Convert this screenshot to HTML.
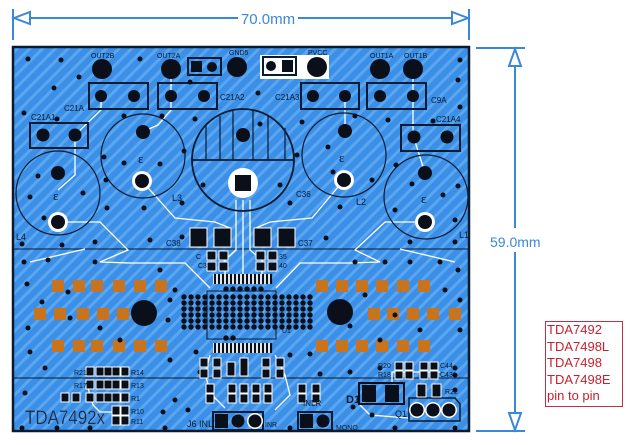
<!DOCTYPE html>
<html><head><meta charset="utf-8"><style>
html,body{margin:0;padding:0;background:#fff;}
svg{display:block;}
</style></head><body>
<svg width="630" height="445" viewBox="0 0 630 445" xmlns="http://www.w3.org/2000/svg" font-family="Liberation Sans, sans-serif">
<defs>
<pattern id="st" width="9" height="9" patternUnits="userSpaceOnUse" patternTransform="rotate(45)">
<rect width="9" height="9" fill="#3b8fe6"/>
<rect width="3" height="9" fill="#5aa6f0"/>
</pattern>
<g id="row" fill="#0a0f1a">
<circle cx="184" cy="0" r="2.7"/><circle cx="191" cy="0" r="2.7"/><circle cx="198" cy="0" r="2.7"/><circle cx="205" cy="0" r="2.7"/><circle cx="212" cy="0" r="2.7"/><circle cx="219" cy="0" r="2.7"/><circle cx="226" cy="0" r="2.7"/><circle cx="233" cy="0" r="2.7"/><circle cx="240" cy="0" r="2.7"/><circle cx="247" cy="0" r="2.7"/><circle cx="254" cy="0" r="2.7"/><circle cx="261" cy="0" r="2.7"/><circle cx="268" cy="0" r="2.7"/><circle cx="275" cy="0" r="2.7"/><circle cx="282" cy="0" r="2.7"/><circle cx="289" cy="0" r="2.7"/><circle cx="296" cy="0" r="2.7"/><circle cx="303" cy="0" r="2.7"/><circle cx="310" cy="0" r="2.7"/>
</g>
</defs>
<!-- dimension lines -->
<g stroke="#3a88d8" stroke-width="2" fill="none">
<line x1="13" y1="9" x2="13" y2="40"/>
<line x1="469" y1="9" x2="469" y2="40"/>
<line x1="14" y1="18" x2="238" y2="18"/>
<line x1="298" y1="18" x2="468" y2="18"/>
<polygon points="14,18 30,12 30,24" fill="#fff"/>
<polygon points="468,18 452,12 452,24" fill="#fff"/>
<line x1="476" y1="48" x2="525" y2="48"/>
<line x1="476" y1="431" x2="525" y2="431"/>
<line x1="515" y1="49" x2="515" y2="228"/>
<line x1="515" y1="252" x2="515" y2="430"/>
<polygon points="515,49 509,66 521,66" fill="#fff"/>
<polygon points="515,430 509,413 521,413" fill="#fff"/>
</g>
<text x="268" y="24" font-size="15" fill="#3a88d8" text-anchor="middle">70.0mm</text>
<text x="490" y="247" font-size="14" fill="#3a88d8">59.0mm</text>
<!-- red box -->
<rect x="545.5" y="321.5" width="77" height="85" fill="#fff" stroke="#c03040" stroke-width="1"/>
<g font-size="13" fill="#c8202e">
<text x="547" y="334">TDA7492</text>
<text x="547" y="351">TDA7498L</text>
<text x="547" y="367">TDA7498</text>
<text x="547" y="384">TDA7498E</text>
<text x="547" y="400">pin to pin</text>
</g>
<!-- board -->
<rect x="13" y="47" width="456" height="384" fill="url(#st)" stroke="#0a1a30" stroke-width="2.5"/>
<line x1="13" y1="249" x2="469" y2="249" stroke="#0a1a30" stroke-width="1"/>
<line x1="13" y1="378" x2="469" y2="378" stroke="#0a1a30" stroke-width="1"/>
<!-- white traces -->
<g stroke="#fff" stroke-width="1.3" fill="none">
<path d="M101,96 L101,110 L75,135 L75,175 L58,190"/>
<path d="M171,69 L171,110 L158,125 L142,132"/>
<path d="M345,96 L345,131"/>
<path d="M413,69 L413,135 L425,173"/>
<path d="M142,181 L175,218 L215,222 L230,228"/>
<path d="M344,180 L312,218 L270,222 L256,228"/>
<path d="M58,222 L100,222 L128,250 L100,262 L130,263 L185,263 L210,288"/>
<path d="M425,222 L385,222 L355,250 L380,262 L350,263 L300,263 L276,288"/>
<path d="M243,200 L243,275"/>
<path d="M236,200 L236,250 L225,260 L225,274"/>
<path d="M250,200 L250,250 L262,260 L262,274"/>
<path d="M30,262 L85,249"/>
<path d="M455,262 L400,249"/>
<path d="M210,355 L205,375 L212,395 L225,408"/>
<path d="M275,355 L285,375 L290,395 L275,410"/>
<path d="M360,405 L370,415 L408,418"/>
<path d="M392,383 L392,372 L440,372"/>
<path d="M88,388 L93,405 L100,412 L120,412"/>
</g>
<!-- circles -->
<g stroke="#0a1a30" stroke-width="1.2" fill="none">
<circle cx="58" cy="193" r="42"/>
<circle cx="143" cy="156" r="42"/>
<circle cx="344" cy="155" r="42"/>
<circle cx="426" cy="197" r="42"/>
<circle cx="243" cy="160" r="51" stroke-width="1.8"/>
<line x1="192" y1="160" x2="294" y2="160" stroke-width="1.8"/>
<line x1="206" y1="126" x2="206" y2="160"/>
<line x1="220" y1="116" x2="220" y2="160"/>
<line x1="233" y1="111" x2="233" y2="160"/>
<line x1="253" y1="111" x2="253" y2="160"/>
<line x1="268" y1="116" x2="268" y2="160"/>
<line x1="285" y1="128" x2="285" y2="160"/>
</g>
<g font-size="13" fill="#0a1a30" font-family="Liberation Serif, serif">
<text x="53" y="200">ε</text><text x="138" y="163">ε</text><text x="339" y="162">ε</text><text x="421" y="203">ε</text>
</g>
<!-- rect outlines -->
<g stroke="#0a1a30" stroke-width="2" fill="none">
<rect x="89" y="83" width="59" height="26"/>
<rect x="158" y="83" width="59" height="26"/>
<rect x="301" y="83" width="58" height="26"/>
<rect x="367" y="83" width="59" height="26"/>
<rect x="30" y="123" width="58" height="25"/>
<rect x="401" y="125" width="59" height="26"/>
<rect x="188" y="58" width="33" height="17"/>
<rect x="213" y="412" width="50" height="18"/>
<rect x="298" y="412" width="34" height="18"/>
<rect x="207" y="291" width="69" height="48" stroke-width="1"/>
<path d="M409,398 L455,398 L460,404 L460,421 L409,421 Z" stroke-width="1.5"/>
</g>
<rect x="260" y="55" width="69" height="24" fill="#fff"/>
<rect x="263" y="57" width="33" height="18" fill="none" stroke="#0a1a30" stroke-width="2"/>
<!-- pads -->
<g fill="#0a0f1a">
<circle cx="102" cy="69" r="10"/><circle cx="171" cy="69" r="10"/><circle cx="237" cy="67" r="10"/>
<circle cx="317" cy="67" r="10"/><circle cx="380" cy="69" r="10"/><circle cx="413" cy="69" r="10"/>
<rect x="191" y="61" width="11" height="11"/><circle cx="212" cy="67" r="5"/>
<circle cx="271" cy="66" r="5"/><rect x="282" y="60" width="11" height="12"/>
<circle cx="101" cy="96" r="6"/><circle cx="134" cy="96" r="6"/><circle cx="171" cy="96" r="6"/><circle cx="204" cy="96" r="6"/>
<circle cx="313" cy="96" r="6"/><circle cx="345" cy="96" r="6"/><circle cx="380" cy="96" r="6"/><circle cx="413" cy="96" r="6"/>
<circle cx="43" cy="135" r="6.5"/><circle cx="75" cy="135" r="6.5"/>
<circle cx="414" cy="137" r="6.5"/><circle cx="447" cy="137" r="6.5"/>
<circle cx="58" cy="173" r="7"/><circle cx="143" cy="132" r="7"/><circle cx="345" cy="131" r="7"/><circle cx="425" cy="173" r="7"/>
<circle cx="243" cy="135" r="7"/>
</g>
<g fill="#fff"><circle cx="58" cy="222" r="10"/><circle cx="142" cy="181" r="10"/><circle cx="344" cy="180" r="10"/><circle cx="425" cy="222" r="10"/><circle cx="243" cy="183" r="15"/></g>
<g fill="#0a0f1a"><circle cx="58" cy="222" r="7"/><circle cx="142" cy="181" r="7"/><circle cx="344" cy="180" r="7"/><circle cx="425" cy="222" r="7"/><rect x="235" y="175" width="16" height="16"/></g>
<!-- SMD caps -->
<g fill="#0a0f1a" stroke="#fff" stroke-width="1">
<rect x="190" y="228" width="17" height="19"/><rect x="214" y="228" width="17" height="19"/>
<rect x="254" y="228" width="17" height="19"/><rect x="278" y="228" width="17" height="19"/>
<rect x="207" y="251" width="9" height="9"/><rect x="219" y="251" width="9" height="9"/>
<rect x="207" y="262" width="9" height="9"/><rect x="219" y="262" width="9" height="9"/>
<rect x="256" y="251" width="9" height="9"/><rect x="268" y="251" width="9" height="9"/>
<rect x="256" y="262" width="9" height="9"/><rect x="268" y="262" width="9" height="9"/>
</g>
<!-- fine pitch pins -->
<g fill="#fff">
<rect x="213" y="274" width="59" height="10"/><rect x="213" y="343" width="59" height="10"/>
</g>
<g stroke="#0a0f1a" stroke-width="2.2">
<path d="M215,274v10M219,274v10M223,274v10M227,274v10M231,274v10M235,274v10M239,274v10M243,274v10M247,274v10M251,274v10M255,274v10M259,274v10M263,274v10M267,274v10M271,274v10"/>
<path d="M215,343v10M219,343v10M223,343v10M227,343v10M231,343v10M235,343v10M239,343v10M243,343v10M247,343v10M251,343v10M255,343v10M259,343v10M263,343v10M267,343v10M271,343v10"/>
</g>
<!-- BGA grid -->
<g fill="#0a0f1a">
<use href="#row" y="297"/><use href="#row" y="303"/><use href="#row" y="309"/><use href="#row" y="315"/><use href="#row" y="321"/><use href="#row" y="327"/>
<circle cx="226" cy="289" r="2.7"/><circle cx="233" cy="289" r="2.7"/><circle cx="240" cy="289" r="2.7"/><circle cx="247" cy="289" r="2.7"/><circle cx="254" cy="289" r="2.7"/><circle cx="261" cy="289" r="2.7"/>
<circle cx="226" cy="338" r="2.7"/><circle cx="233" cy="338" r="2.7"/>
<circle cx="144" cy="313" r="13"/><circle cx="340" cy="312" r="13"/>
</g>
<!-- orange pads -->
<g fill="#c8741e">
<rect x="52" y="280" width="12" height="12"/><rect x="73" y="280" width="12" height="12"/><rect x="91" y="280" width="12" height="12"/><rect x="113" y="280" width="12" height="12"/><rect x="134" y="280" width="12" height="12"/><rect x="155" y="280" width="12" height="12"/>
<rect x="34" y="308" width="12" height="12"/><rect x="54" y="308" width="12" height="12"/><rect x="77" y="308" width="12" height="12"/><rect x="97" y="308" width="12" height="12"/><rect x="117" y="308" width="12" height="12"/>
<rect x="52" y="340" width="12" height="12"/><rect x="73" y="340" width="12" height="12"/><rect x="91" y="340" width="12" height="12"/><rect x="113" y="340" width="12" height="12"/><rect x="134" y="340" width="12" height="12"/><rect x="155" y="340" width="12" height="12"/>
<rect x="316" y="280" width="12" height="12"/><rect x="336" y="280" width="12" height="12"/><rect x="356" y="280" width="12" height="12"/><rect x="376" y="280" width="12" height="12"/><rect x="397" y="280" width="12" height="12"/><rect x="418" y="280" width="12" height="12"/>
<rect x="368" y="308" width="12" height="12"/><rect x="387" y="308" width="12" height="12"/><rect x="407" y="308" width="12" height="12"/><rect x="427" y="308" width="12" height="12"/><rect x="449" y="308" width="12" height="12"/>
<rect x="316" y="340" width="12" height="12"/><rect x="336" y="340" width="12" height="12"/><rect x="356" y="340" width="12" height="12"/><rect x="376" y="340" width="12" height="12"/><rect x="397" y="340" width="12" height="12"/><rect x="418" y="340" width="12" height="12"/>
</g>
<!-- vias -->
<g fill="#0a0f1a">
<circle cx="28" cy="59" r="2.5"/><circle cx="61" cy="60" r="2.5"/><circle cx="140" cy="59" r="2.5"/><circle cx="79" cy="77" r="2.5"/><circle cx="54" cy="88" r="2.5"/><circle cx="190" cy="82" r="2.5"/><circle cx="24" cy="113" r="2.5"/><circle cx="57" cy="119" r="2.5"/><circle cx="124" cy="116" r="2.5"/><circle cx="162" cy="116" r="2.5"/><circle cx="195" cy="119" r="2.5"/><circle cx="258" cy="93" r="2.5"/><circle cx="302" cy="122" r="2.5"/><circle cx="355" cy="116" r="2.5"/><circle cx="388" cy="120" r="2.5"/><circle cx="460" cy="60" r="2.5"/><circle cx="458" cy="80" r="2.5"/><circle cx="460" cy="107" r="2.5"/><circle cx="433" cy="121" r="2.5"/><circle cx="260" cy="124" r="2.5"/><circle cx="104" cy="157" r="2.5"/><circle cx="124" cy="163" r="2.5"/><circle cx="160" cy="164" r="2.5"/><circle cx="184" cy="151" r="2.5"/><circle cx="203" cy="185" r="2.5"/><circle cx="280" cy="185" r="2.5"/><circle cx="297" cy="155" r="2.5"/><circle cx="328" cy="147" r="2.5"/><circle cx="333" cy="172" r="2.5"/><circle cx="372" cy="180" r="2.5"/><circle cx="396" cy="165" r="2.5"/><circle cx="412" cy="184" r="2.5"/><circle cx="443" cy="195" r="2.5"/><circle cx="458" cy="186" r="2.5"/><circle cx="38" cy="176" r="2.5"/><circle cx="30" cy="197" r="2.5"/><circle cx="83" cy="193" r="2.5"/><circle cx="44" cy="218" r="2.5"/><circle cx="106" cy="180" r="2.5"/><circle cx="144" cy="208" r="2.5"/><circle cx="107" cy="208" r="2.5"/><circle cx="182" cy="203" r="2.5"/><circle cx="290" cy="203" r="2.5"/><circle cx="340" cy="207" r="2.5"/><circle cx="395" cy="210" r="2.5"/><circle cx="455" cy="220" r="2.5"/><circle cx="22" cy="244" r="2.5"/><circle cx="62" cy="245" r="2.5"/><circle cx="95" cy="242" r="2.5"/><circle cx="150" cy="240" r="2.5"/><circle cx="182" cy="237" r="2.5"/><circle cx="326" cy="238" r="2.5"/><circle cx="410" cy="242" r="2.5"/><circle cx="455" cy="242" r="2.5"/>
<circle cx="24" cy="262" r="2.5"/><circle cx="48" cy="260" r="2.5"/><circle cx="95" cy="262" r="2.5"/><circle cx="160" cy="270" r="2.5"/><circle cx="355" cy="262" r="2.5"/><circle cx="385" cy="262" r="2.5"/><circle cx="410" cy="262" r="2.5"/><circle cx="440" cy="262" r="2.5"/><circle cx="458" cy="270" r="2.5"/><circle cx="27" cy="284" r="2.5"/><circle cx="42" cy="302" r="2.5"/><circle cx="68" cy="292" r="2.5"/><circle cx="175" cy="290" r="2.5"/><circle cx="170" cy="300" r="2.5"/><circle cx="28" cy="328" r="2.5"/><circle cx="70" cy="318" r="2.5"/><circle cx="100" cy="328" r="2.5"/><circle cx="120" cy="340" r="2.5"/><circle cx="168" cy="320" r="2.5"/><circle cx="350" cy="326" r="2.5"/><circle cx="380" cy="340" r="2.5"/><circle cx="420" cy="330" r="2.5"/><circle cx="460" cy="330" r="2.5"/><circle cx="460" cy="300" r="2.5"/><circle cx="445" cy="290" r="2.5"/><circle cx="365" cy="295" r="2.5"/><circle cx="395" cy="315" r="2.5"/><circle cx="30" cy="352" r="2.5"/><circle cx="45" cy="368" r="2.5"/><circle cx="170" cy="360" r="2.5"/><circle cx="196" cy="352" r="2.5"/><circle cx="200" cy="372" r="2.5"/><circle cx="290" cy="355" r="2.5"/><circle cx="310" cy="354" r="2.5"/><circle cx="320" cy="374" r="2.5"/><circle cx="350" cy="372" r="2.5"/><circle cx="380" cy="368" r="2.5"/><circle cx="455" cy="368" r="2.5"/><circle cx="455" cy="375" r="2.5"/><circle cx="25" cy="393" r="2.5"/><circle cx="175" cy="400" r="2.5"/><circle cx="163" cy="412" r="2.5"/><circle cx="188" cy="410" r="2.5"/><circle cx="353" cy="407" r="2.5"/><circle cx="372" cy="415" r="2.5"/><circle cx="455" cy="390" r="2.5"/><circle cx="22" cy="428" r="2.5"/><circle cx="57" cy="428" r="2.5"/><circle cx="90" cy="428" r="2.5"/><circle cx="165" cy="428" r="2.5"/><circle cx="290" cy="428" r="2.5"/><circle cx="395" cy="428" r="2.5"/><circle cx="455" cy="428" r="2.5"/>
</g>
<!-- bottom SMD parts -->
<g fill="#0a0f1a" stroke="#fff" stroke-width="1">
<rect x="86" y="367" width="8" height="9"/><rect x="96" y="367" width="8" height="9"/><rect x="104" y="367" width="8" height="9"/><rect x="112" y="367" width="8" height="9"/><rect x="121" y="367" width="8" height="9"/>
<rect x="86" y="380" width="8" height="9"/><rect x="96" y="380" width="8" height="9"/><rect x="104" y="380" width="8" height="9"/><rect x="112" y="380" width="8" height="9"/><rect x="121" y="380" width="8" height="9"/>
<rect x="61" y="393" width="8" height="9"/><rect x="72" y="393" width="8" height="9"/><rect x="86" y="393" width="8" height="9"/><rect x="96" y="393" width="8" height="9"/><rect x="104" y="393" width="8" height="9"/><rect x="112" y="393" width="8" height="9"/><rect x="121" y="393" width="8" height="9"/>
<rect x="112" y="406" width="8" height="9"/><rect x="121" y="406" width="8" height="9"/>
<rect x="112" y="416" width="8" height="9"/><rect x="121" y="416" width="8" height="9"/>
<rect x="200" y="358" width="8" height="9"/><rect x="200" y="369" width="8" height="9"/><rect x="213" y="358" width="8" height="9"/><rect x="213" y="369" width="8" height="9"/><rect x="227" y="362" width="8" height="14"/><rect x="240" y="358" width="8" height="18"/>
<rect x="262" y="358" width="8" height="9"/><rect x="262" y="369" width="8" height="9"/><rect x="276" y="358" width="8" height="9"/><rect x="276" y="369" width="8" height="9"/>
<rect x="206" y="384" width="8" height="9"/><rect x="206" y="394" width="8" height="9"/><rect x="228" y="384" width="8" height="9"/><rect x="228" y="394" width="8" height="9"/><rect x="240" y="384" width="8" height="9"/><rect x="240" y="394" width="8" height="9"/><rect x="252" y="384" width="8" height="9"/><rect x="252" y="394" width="8" height="9"/><rect x="264" y="384" width="8" height="9"/><rect x="264" y="394" width="8" height="9"/>
<rect x="298" y="384" width="8" height="9"/><rect x="312" y="384" width="8" height="9"/><rect x="298" y="394" width="8" height="9"/><rect x="312" y="394" width="8" height="9"/>
<rect x="395" y="362" width="8" height="8"/><rect x="405" y="362" width="8" height="8"/><rect x="420" y="362" width="8" height="8"/><rect x="430" y="362" width="8" height="8"/>
<rect x="395" y="371" width="8" height="8"/><rect x="405" y="371" width="8" height="8"/><rect x="420" y="371" width="8" height="8"/><rect x="430" y="371" width="8" height="8"/>
<rect x="417" y="384" width="9" height="13"/><rect x="432" y="384" width="9" height="13"/>
<rect x="359" y="383" width="45" height="21" fill="none" stroke="#0a0f1a" stroke-width="2"/>
<rect x="362" y="385" width="14" height="17" stroke="none"/><rect x="385" y="385" width="14" height="17" stroke="none"/>
</g>
<g fill="#0a0f1a">
<rect x="215" y="414" width="13" height="14"/><circle cx="238" cy="421" r="6.5"/>
<circle cx="255" cy="421" r="8" fill="#fff"/><circle cx="255" cy="421" r="6.5"/>
<rect x="300" y="414" width="13" height="14"/><circle cx="323" cy="421" r="6.5"/>
</g>
<g fill="#fff"><circle cx="417" cy="410" r="8"/><circle cx="433" cy="410" r="8"/><circle cx="449" cy="410" r="8"/></g>
<g fill="#0a0f1a"><circle cx="417" cy="410" r="6.5"/><circle cx="433" cy="410" r="6.5"/><circle cx="449" cy="410" r="6.5"/></g>
<!-- labels -->
<g font-size="8" fill="#0a1a30">
<text x="91" y="58" font-size="7">OUT2B</text><text x="157" y="58" font-size="7">OUT2A</text><text x="229" y="55" font-size="7">GND5</text>
<text x="308" y="55" font-size="7">PVCC</text><text x="370" y="58" font-size="7">OUT1A</text><text x="404" y="58" font-size="7">OUT1B</text>
<text x="220" y="100">C21A2</text><text x="275" y="100">C21A3</text><text x="431" y="103">C9A</text><text x="436" y="122">C21A4</text>
<text x="64" y="111">C21A</text><text x="31" y="120">C21A1</text>
<text x="172" y="201" font-size="9">L3</text><text x="296" y="197">C36</text><text x="356" y="205" font-size="9">L2</text>
<text x="16" y="240" font-size="9">L4</text><text x="459" y="238" font-size="9">L1</text>
<text x="166" y="246">C38</text><text x="298" y="246">C37</text>
<text x="196" y="259" font-size="7">C</text><text x="198" y="268" font-size="7">C3</text><text x="279" y="259" font-size="7">35</text><text x="279" y="268" font-size="7">40</text>
<text x="282" y="333" font-size="7">U1</text>
<text x="74" y="375" font-size="7">R21</text><text x="131" y="375" font-size="7">R14</text>
<text x="74" y="388" font-size="7">R17</text><text x="131" y="388" font-size="7">R13</text>
<text x="131" y="401" font-size="7">R1</text><text x="131" y="414" font-size="7">R10</text><text x="131" y="424" font-size="7">R11</text>
<text x="187" y="427" font-size="9">J6 INL</text><text x="265" y="427" font-size="7">INR</text><text x="303" y="406" font-size="8">INLR</text><text x="336" y="430" font-size="7">MONO</text>
<text x="378" y="368" font-size="7">R20</text><text x="440" y="368" font-size="7">C44</text><text x="378" y="377" font-size="7">R18</text><text x="440" y="377" font-size="7">C43</text>
<text x="445" y="394" font-size="7">R22</text>
<text x="346" y="403" font-size="11" font-weight="bold">D1</text><text x="395" y="417" font-size="9">Q1</text>
</g>
<text x="25" y="424" font-size="19" fill="#102040" textLength="80" lengthAdjust="spacingAndGlyphs" stroke="#6a9ad0" stroke-width="0.3">TDA7492x</text>
</svg>
</body></html>
